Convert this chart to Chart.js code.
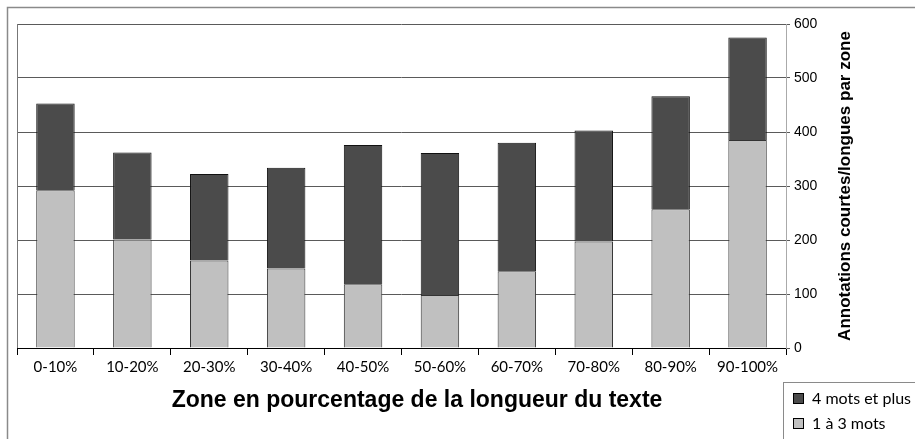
<!DOCTYPE html>
<html>
<head>
<meta charset="utf-8">
<script src="https://cdn.jsdelivr.net/npm/chart.js@4"></script>
<style>
  body { margin: 0; background: #fff; }
  #wrap { position: relative; width: 915px; height: 439px; }
  #legend { position: absolute; left: 783px; top: 382px; width: 140px; height: 70px; border: 1px solid #8a8a8a; box-sizing: border-box; font: 16px Lato, sans-serif; color: #000; }
  #legend div { position: absolute; left: 9px; white-space: nowrap; }
  #legend span { display: inline-block; width: 9px; height: 9px; border: 1px solid #000; margin-right: 8px; vertical-align: 0px; }
</style>
</head>
<body>
<div id="wrap">
  <canvas id="chart" width="915" height="439"></canvas>
  <div id="legend"></div>
</div>
<script>
const zones = ['0-10%', '10-20%', '20-30%', '30-40%', '40-50%', '50-60%', '60-70%', '70-80%', '80-90%', '90-100%'];
const shortAnn = [292, 201, 162, 147, 118, 98, 142, 197, 257, 385];   // 1 à 3 mots
const longAnn = [161, 161, 160, 187, 258, 263, 238, 206, 209, 190];   // 4 mots et plus
const seriesNames = ['1 à 3 mots', '4 mots et plus'];
const colors = ['#c0c0c0', '#4b4b4b'];
const xTitle = 'Zone en pourcentage de la longueur du texte';
const yTitle = 'Annotations courtes/longues par zone';
const sans = 'Arial, "Liberation Sans", sans-serif';

// cadre extérieur, bord gauche du tracé et titres des axes
const decor = {
    id: 'decor',
    afterDraw(chart) {
        const { ctx, chartArea: a } = chart;
        ctx.save();
        ctx.strokeStyle = '#8a8a8a'; ctx.lineWidth = 1.5;
        ctx.beginPath(); ctx.moveTo(7.5, 439); ctx.lineTo(7.5, 7.5); ctx.lineTo(915, 7.5); ctx.stroke();
        ctx.strokeStyle = '#777'; ctx.lineWidth = 1;
        ctx.beginPath(); ctx.moveTo(a.left + 0.5, a.top); ctx.lineTo(a.left + 0.5, a.bottom); ctx.stroke();
        ctx.fillStyle = '#000'; ctx.textAlign = 'center'; ctx.textBaseline = 'alphabetic';
        ctx.font = 'bold 23px ' + sans;
        ctx.fillText(xTitle, 417, 407);
        ctx.translate(850, 186); ctx.rotate(-Math.PI / 2);
        ctx.font = 'bold 17px ' + sans;
        ctx.fillText(yTitle, 0, 0);
        ctx.restore();
    }
};

const chart = new Chart(document.getElementById('chart'), {
    type: 'bar',
    data: {
        labels: zones,
        datasets: [
            { label: seriesNames[0], data: shortAnn, backgroundColor: colors[0], borderColor: '#333', borderWidth: 1, barPercentage: 0.5, categoryPercentage: 1 },
            { label: seriesNames[1], data: longAnn, backgroundColor: colors[1], borderColor: '#111', borderWidth: 1, barPercentage: 0.5, categoryPercentage: 1 }
        ]
    },
    options: {
        responsive: false, animation: false, devicePixelRatio: 1,
        layout: { padding: { left: 17, top: 24, right: 0, bottom: 0 } },
        plugins: { legend: { display: false }, tooltip: { enabled: false } },
        scales: {
            x: {
                stacked: true,
                afterFit: s => { s.height = 91; },
                grid: { offset: true, drawOnChartArea: false, drawTicks: true, tickLength: 7, color: '#000' },
                border: { color: '#000', width: 1 },
                ticks: { color: '#000', padding: 3, font: { family: 'Lato', size: 15 }, maxRotation: 0 }
            },
            y: {
                stacked: true, position: 'right', min: 0, max: 600,
                afterFit: s => { s.width = 129; },
                grid: { color: '#5a5a5a', tickLength: 4 },
                border: { color: '#aaa', width: 1 },
                ticks: { stepSize: 100, padding: 4, color: '#000', font: { family: sans, size: 14 } }
            }
        }
    },
    plugins: [decor]
});

// légende : série du haut en premier
const legend = document.getElementById('legend');
[1, 0].forEach((i, k) => {
    const d = document.createElement('div');
    d.style.top = (5 + k * 25) + 'px';
    d.innerHTML = '<span style="background:' + colors[i] + '"></span>' + seriesNames[i];
    legend.appendChild(d);
});
</script>
</body>
</html>
